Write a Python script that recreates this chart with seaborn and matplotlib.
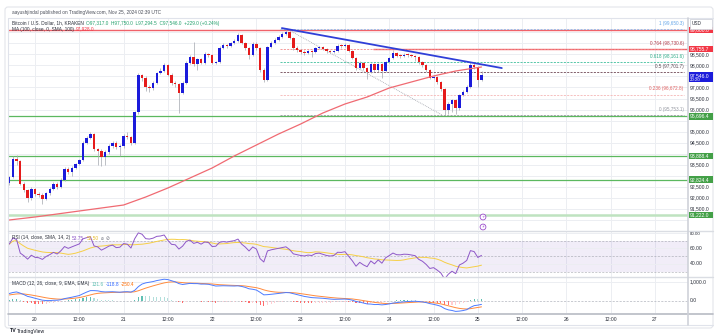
import numpy as np
import pandas as pd
import matplotlib
matplotlib.use("Agg")
import matplotlib.pyplot as plt
from matplotlib.patches import Rectangle, FancyBboxPatch, Circle
import seaborn as sns

# ---------------- BTC/USD 1h (Kraken) ----------------
start_time = "2024-11-19 17:00"
first_open = 92672.0
close = [
    92940, 93760, 93670, 92630, 92360, 91990, 92400, 92170, 92130, 91950,
    92220, 92400, 92630, 92490, 92810, 93310, 93170, 93350, 93530, 93710,
    94490, 94710, 94890, 94210, 94120, 93850, 94080, 94350, 94490, 94300,
    94350, 94800, 94760, 94490, 95890, 97570, 97440, 97020, 96980, 97200,
    97660, 97750, 98020, 97570, 97200, 97160, 96750, 97200, 98110, 98380,
    98060, 98290, 98110, 98520, 98470, 98110, 98150, 98790, 98920, 98880,
    99020, 99110, 99380, 99020, 98790, 98470, 98970, 98790, 97790, 97340,
    98830, 99020, 99150, 99290, 99420, 99510, 99240, 98790, 98700, 98610,
    98560, 98650, 98610, 98790, 98830, 98740, 98650, 98610, 98650, 98880,
    98870, 98920, 98650, 98340, 97880, 98110, 97880, 97700, 98060, 97790,
    98060, 97750, 98150, 98340, 98560, 98430, 98420, 98470, 98460, 98420,
    98380, 98150, 98020, 97790, 97440, 97480, 97250, 96930, 95980, 96250,
    96430, 96070, 96660, 96800, 97020, 98020, 97930, 97317, 97546]
high = [
    93000, 93900, 93950, 93720, 92700, 92420, 92500, 92450, 92260, 92200,
    92280, 92480, 92700, 92700, 92900, 93380, 93400, 93420, 93600, 93780,
    94560, 94780, 94980, 94950, 94280, 94200, 94150, 94420, 94560, 94560,
    94420, 94900, 94980, 94820, 95950, 97650, 97620, 97500, 97100, 97300,
    97720, 97900, 98120, 98060, 97640, 97300, 97200, 97280, 98180, 98450,
    99060, 98350, 98350, 98600, 98580, 98500, 98220, 98860, 99000, 98960,
    99080, 99200, 99480, 99420, 99060, 98830, 99050, 99060, 98830, 97880,
    98900, 99120, 99230, 99360, 99500, 99650, 99560, 99290, 98880, 98760,
    98700, 98720, 98700, 98850, 98900, 98880, 98780, 98700, 98720, 98950,
    98960, 99000, 98960, 98700, 98380, 98180, 98150, 97950, 98120, 98100,
    98120, 98100, 98220, 98400, 98700, 98620, 98500, 98540, 98560, 98520,
    98480, 98420, 98200, 98060, 97840, 97560, 97520, 97300, 96980, 96320,
    96500, 96480, 96720, 96880, 97100, 98150, 98100, 97980, 97750]
low = [
    92600, 92900, 93500, 92560, 92250, 91800, 91900, 92080, 92040, 91700,
    91880, 92150, 92340, 92400, 92450, 92760, 93100, 93000, 93300, 93480,
    93650, 94420, 94650, 94100, 93500, 93420, 93500, 94000, 94280, 94200,
    93900, 94280, 94650, 94400, 94420, 95800, 97300, 96850, 96800, 96900,
    97150, 97600, 97700, 97500, 97100, 97000, 95840, 96700, 97150, 98050,
    97980, 97800, 98050, 98050, 98380, 98050, 98060, 98100, 98750, 98800,
    98840, 98960, 99060, 98960, 98700, 98300, 98420, 98720, 97700, 97250,
    97300, 98780, 98960, 99100, 99240, 99380, 99180, 98700, 98620, 98520,
    98450, 98500, 98400, 98560, 98740, 98680, 98580, 98550, 98560, 98600,
    98800, 98820, 98600, 98280, 97800, 97830, 97800, 97400, 97650, 97700,
    97720, 97450, 97700, 98100, 98300, 98380, 98350, 98380, 98400, 98360,
    98200, 98080, 97950, 97700, 97380, 97380, 97150, 96850, 95753, 95800,
    95900, 95780, 96000, 96600, 96750, 96980, 97850, 97022, 97294.5]

# 100-period SMA of close, hours after 2024-11-20 00:00
ma100_hours = [-7, 0, 6, 12, 18, 24, 30, 36, 42, 48, 54, 60, 66, 72, 78,
               84, 90, 96, 102, 108, 114, 121]
ma100_values = [90996, 91132, 91268, 91404, 91540, 91675, 92038, 92446,
                92899, 93352, 93896, 94394, 94892, 95346, 95844, 96252,
                96569, 96977, 97249, 97520, 97747, 97928]

# Fibonacci retracement between the swing high and the swing low
fib_ratios = [1, 0.764, 0.618, 0.5, 0.236, 0]
fib_high, fib_low = 99650.3, 95753.1
fib_colors = ["#8FB8E8", "#F28A8A", "#3DBE9B", "#6D4552", "#F5B5B5", "#9598A1"]
fib_text_colors = ["#64A6E8", "#B23A48", "#2EAD88", "#5A4650", "#E06060", "#9598A1"]
fib_span_hours = [66.5, 175.8]
swing_hours = [68.3, 110.3]

# horizontal levels
resistance_levels = [99600.0, 98755.7]
resistance_start = [-7.3, 91.5]
support_levels = [95696.4, 93888.4, 92824.4]
base_level = 91222.0

# descending trend line (hour, price)
trend_hours = [66.9, 126.5]
trend_prices = [99690.0, 97880.0]

# indicator states entering the visible window
macd_start, signal_start = 400.0, 300.0
rsi_gain_start, rsi_loss_start = 130.0, 80.0

# last values shown in the pane legends
ohlc_text = "O97,317.0  H97,750.0  L97,294.5  C97,546.0  +229.0 (+0.24%)"
rsi_legend = ["53.75", "52.50"]
macd_legend = ["131.6", "-118.8", "-250.4"]

price_ticks = list(range(90500, 100000, 500))
hour_ticks = list(range(0, 169, 12))
hour_labels = ["20", "12:00", "21", "12:00", "22", "12:00", "23", "12:00",
               "24", "12:00", "25", "12:00", "26", "12:00", "27"]

# ---------------- derived series ----------------
close_a = np.array(close, float)
open_a = np.r_[first_open, close_a[:-1]]
times = pd.date_range(start_time, periods=len(close), freq="h")
hours = ((times - pd.Timestamp("2024-11-20")) / pd.Timedelta(hours=1)).to_numpy()

# RSI(14), Wilder smoothing, and its 14-period SMA
gain, loss = rsi_gain_start, rsi_loss_start
rsi = []
prev = first_open
for c in close_a:
    d = c - prev
    gain = (gain * 13 + max(d, 0)) / 14
    loss = (loss * 13 + max(-d, 0)) / 14
    rsi.append(100 - 100 / (1 + gain / loss))
    prev = c
rsi = pd.Series(rsi)
rsi_ma = rsi.rolling(14, min_periods=1).mean()

# MACD(12, 26, 9)
ef, es = first_open, first_open - macd_start
sig = signal_start
macd, signal = [], []
for c in close_a:
    ef += (c - ef) * 2 / 13
    es += (c - es) * 2 / 27
    m = ef - es
    sig += (m - sig) * 2 / 10
    macd.append(m)
    signal.append(sig)
macd = np.array(macd)
signal = np.array(signal)
hist = macd - signal

# ---------------- figure ----------------
sns.set_theme(style="white")
plt.rcParams['font.family'] = ['Liberation Sans', 'DejaVu Sans']

W, H = 715, 336
fig = plt.figure(figsize=(W / 100, H / 100), dpi=100)
fig.patch.set_facecolor("white")

X0, X1 = -7.32, 176.96
YMAIN = (90543, 100148)
YRSI = (22.9, 82.3)
YMACD = (-632, 1263)
GRID = "#ECEEF2"
BLUE, RED, WICK = "#1B1BDB", "#E51B1B", "#A3A6AE"
TXT = "#2A2E39"
FS = 3.6
LFS = 3.4


def pane(x0, y0, x1, y1):
    a = fig.add_axes([x0 / W, 1 - y1 / H, (x1 - x0) / W, (y1 - y0) / H])
    a.set_facecolor("none")
    for sp in a.spines.values():
        sp.set_visible(False)
    return a


ax = pane(8, 18, 688, 230)
ax_rsi = pane(8, 231, 688, 277)
ax_macd = pane(8, 277, 688, 313)

ov = fig.add_axes([0, 0, 1, 1])
ov.set_xlim(0, W)
ov.set_ylim(H, 0)
ov.axis("off")
ov.set_facecolor("none")

# grid
for a in (ax, ax_rsi, ax_macd):
    for hh in hour_ticks:
        a.axvline(hh, color=GRID, lw=0.7, zorder=0)
for p in price_ticks:
    ax.axhline(p, color=GRID, lw=0.7, zorder=0)

# horizontal levels
for p, s0 in zip(resistance_levels, resistance_start):
    ax.hlines(p, s0, X1, color="#F0626A", lw=1.0, zorder=2)
for p in support_levels:
    ax.axhline(p, color="#5CB85F", lw=0.9, zorder=2)
ax.axhline(base_level, color="#BFE3C0", lw=1.8, zorder=2)

# fibonacci
for r, col, tcol in zip(fib_ratios, fib_colors, fib_text_colors):
    lvl = fib_low + r * (fib_high - fib_low)
    ax.hlines(lvl, fib_span_hours[0], fib_span_hours[1], color=col, lw=0.6,
              linestyles=(0, (2.5, 1.5)), zorder=2)
    lab = f"{r:g} ({lvl:,.1f})"
    ax.text(fib_span_hours[1], lvl + 260, lab, ha="right", va="center",
            fontsize=FS - 0.3, color=tcol, zorder=6)
ax.plot(swing_hours, [fib_high, fib_low], color="#A0A3AB", lw=0.6,
        linestyle=(0, (1, 1.2)), zorder=2)

# candles
up = close_a >= open_a
colors = np.where(up, BLUE, RED)
ax.vlines(hours, low, high, color=WICK, lw=0.5, zorder=3)
ax.bar(hours, np.maximum(np.abs(close_a - open_a), 45),
       bottom=np.minimum(open_a, close_a), width=0.66, color=colors,
       linewidth=0, zorder=4)

# moving average
sns.lineplot(x=ma100_hours, y=ma100_values, ax=ax, color="#F06A72", lw=0.9,
             zorder=5, legend=False)

# trend line
ax.plot(trend_hours, trend_prices, color="#2F3FD8", lw=1.3, zorder=6,
        solid_capstyle="round")

# RSI pane
ax_rsi.axhspan(30, 70, color="#7E57C2", alpha=0.10, lw=0, zorder=0)
for lv in (80, 60, 40):
    ax_rsi.axhline(lv, color=GRID, lw=0.7, zorder=0)
for lv in (70, 50, 30):
    ax_rsi.axhline(lv, color="#9598A1", lw=0.5, linestyle=(0, (3, 2)),
                   alpha=0.7, zorder=1)
sns.lineplot(x=hours, y=rsi_ma.to_numpy(), ax=ax_rsi, color="#F6CF45", lw=0.7,
             zorder=3, legend=False)
sns.lineplot(x=hours, y=rsi.to_numpy(), ax=ax_rsi, color="#8E57C8", lw=0.7,
             zorder=4, legend=False)

# MACD pane
ax_macd.axhline(1000, color=GRID, lw=0.7, zorder=0)
ax_macd.axhline(0, color="#B2B5BE", lw=0.5, linestyle=(0, (3, 2)), zorder=1)
prev_h = np.r_[hist[0], hist[:-1]]
hcol = np.where(hist >= 0,
                np.where(hist >= prev_h, "#5FBFB2", "#B2DFDB"),
                np.where(hist < prev_h, "#FF6B6B", "#FFCDD2"))
ax_macd.bar(hours, hist, width=0.3, color=hcol, linewidth=0, zorder=2)
sns.lineplot(x=hours, y=signal, ax=ax_macd, color="#FF8A3D", lw=0.7,
             zorder=3, legend=False)
sns.lineplot(x=hours, y=macd, ax=ax_macd, color="#4C7BFF", lw=0.7, zorder=4,
             legend=False)

for a, yl in ((ax, YMAIN), (ax_rsi, YRSI), (ax_macd, YMACD)):
    a.set_xlim(X0, X1)
    a.set_ylim(*yl)
    a.set_xticks([])
    a.set_yticks([])
    a.set_xlabel("")
    a.set_ylabel("")


def px(a, x, y):
    dx, dy = a.transData.transform((x, y))
    return dx, H - dy


# ---------------- frame ----------------
ov.add_patch(FancyBboxPatch((5, 7), 708, 321, boxstyle="round,pad=0,rounding_size=3",
                            fc="none", ec="#E3E5EA", lw=0.8))
LINE = "#E0E3EB"
ov.plot([8, 713], [18, 18], color=LINE, lw=0.8)
ov.plot([8, 8], [18, 325], color=LINE, lw=0.8)
ov.plot([8, 713], [325, 325], color=LINE, lw=0.8)
ov.plot([8, 713], [230.5, 230.5], color="#DADDE3", lw=1.0)
ov.plot([8, 713], [277, 277], color="#DADDE3", lw=1.0)
ov.plot([8, 713], [313.5, 313.5], color="#B8BBC3", lw=1.2)
ov.plot([688, 688], [18, 325], color="#CFD2D9", lw=1.2)

# price axis: coloured tags first, plain ticks only where free
tags = [(resistance_levels[0], "#F23645", None),
        (resistance_levels[1], "#F23645", None),
        (close[-1], BLUE, "20:20")]
tags += [(p, "#43A047", None) for p in support_levels + [base_level]]
tag_y = [px(ax, 0, p)[1] for p, _, _ in tags]

for p in price_ticks:
    _, y = px(ax, 0, p)
    if 22 < y < 229 and all(abs(y - ty) > 5.5 for ty in tag_y):
        ov.text(690, y, f"{p:,.1f}", fontsize=FS, color=TXT, va="center", ha="left")
for v in (60, 40):
    _, y = px(ax_rsi, 0, v)
    ov.text(690, y, f"{v:.2f}", fontsize=FS, color=TXT, va="center", ha="left")
_, y80 = px(ax_rsi, 0, 80)
ov.text(690, y80 + 1.2, "80.00", fontsize=FS - 0.4, color=TXT, va="center", ha="left")
for v, s in ((1000, "1,000.0"), (0, "0.0")):
    _, y = px(ax_macd, 0, v)
    ov.text(690, y, s, fontsize=FS, color=TXT, va="center", ha="left")

for (p, face, sub), y in zip(tags, tag_y):
    hgt = 6.5 if sub is None else 10
    ov.add_patch(Rectangle((689, y - 3.2), 23.5, hgt, fc=face, ec="none", zorder=5))
    ov.text(690, y, f"{p:,.1f}", fontsize=FS, color="white", va="center",
            ha="left", zorder=6)
    if sub:
        ov.text(690, y + 4.2, sub, fontsize=FS - 0.4, color="white", va="center",
                ha="left", zorder=6)

# currency box (covers the top tag partly)
ov.add_patch(Rectangle((689.5, 18.5), 22.5, 10.0, fc="white", ec="#D1D4DC", lw=0.6, zorder=7))
ov.text(692, 23.4, "USD", fontsize=FS - 0.2, color=TXT, va="center", zorder=8)

# time axis labels
for hh, lab in zip(hour_ticks, hour_labels):
    x, _ = px(ax, hh, 0)
    ov.text(x, 319.5, lab, fontsize=FS, color=TXT, ha="center", va="center")

# header and pane legends, laid out left to right
fig.canvas.draw()
renderer = fig.canvas.get_renderer()


def chain(x, y, parts, gap=2.0):
    for s, col in parts:
        t = ov.text(x, y, s, fontsize=LFS, color=col, va="center", zorder=8,
                    family=["Liberation Sans", "DejaVu Sans"])
        x = t.get_window_extent(renderer=renderer).x1 + gap


ov.text(12, 12.8, "aayushjindal published on TradingView.com, Nov 25, 2024 02:39 UTC",
        fontsize=LFS, color="#4A4E59", va="center")
chain(12, 23, [("Bitcoin / U.S. Dollar, 1h, KRAKEN", TXT), (ohlc_text, "#22A06B")])
chain(12, 29, [("MA (100, close, 0, SMA, 100)", TXT),
               (f"{ma100_values[-1]:,.1f}", "#F23645")])
chain(12, 238, [("RSI (14, close, SMA, 14, 2)", TXT), (rsi_legend[0], "#8E57C8"),
                (rsi_legend[1], "#E8B923"), ("\u2300", "#787B86"), ("\u2298", "#787B86")])
chain(12, 284, [("MACD (12, 26, close, 9, EMA, EMA)", TXT), (macd_legend[0], "#5FBFB2"),
                (macd_legend[1], "#2962FF"), (macd_legend[2], "#FF6D00")])

# event markers
for y, s in ((217, "+"), (227, "\u26a1")):
    ov.add_patch(Circle((483, y), 2.9, fc="white", ec="#9C4DCC", lw=0.6, zorder=7))
    ov.text(483, y + 0.2, s, fontsize=3.0, color="#9C4DCC", ha="center", va="center",
            zorder=8, family=["DejaVu Sans"])

# footer logo
ov.text(10, 331, "TV", fontsize=3.8, color="#131722", va="center", weight="bold")
ov.text(17, 331, "TradingView", fontsize=3.6, color="#131722", va="center")

fig.savefig("out.png", dpi=100)
